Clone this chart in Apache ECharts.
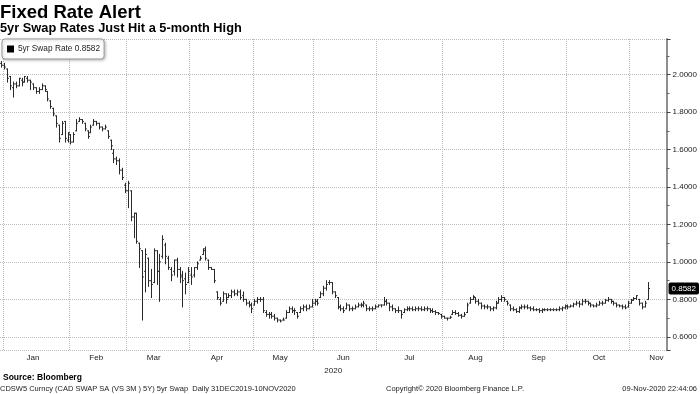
<!DOCTYPE html>
<html><head><meta charset="utf-8">
<script src="https://cdn.jsdelivr.net/npm/echarts@6/dist/echarts.min.js"></script>
<style>html,body{margin:0;padding:0;background:#fff}#c{width:700px;height:394px}</style>
</head><body><div id="c"></div>
<script>
const titleText = 'Fixed Rate Alert';
const subtitleText = '5yr Swap Rates Just Hit a 5-month High';
const sourceText = 'Source: Bloomberg';
const footLeft = 'CDSW5 Curncy (CAD SWAP SA (VS 3M ) 5Y) 5yr Swap  Daily 31DEC2019-10NOV2020';
const footMid = 'Copyright\u00a9 2020 Bloomberg Finance L.P.';
const footRight = '09-Nov-2020 22:44:06';
const seriesName = '5yr Swap Rate';
const yearLabel = '2020';
const firstDate = '2019-12-31';
const extraFutureDays = 6;
const monthNames = ['Jan','Feb','Mar','Apr','May','Jun','Jul','Aug','Sep','Oct','Nov','Dec'];
const monthLabelDates = ['2020-01-15','2020-02-14','2020-03-13','2020-04-14','2020-05-14','2020-06-15','2020-07-16','2020-08-18','2020-09-17','2020-10-16','2020-11-13'];

const openV = [2.06,2.05,2.03,1.99,1.93,1.95,1.94,1.97,1.96,1.98,
1.97,1.95,1.93,1.91,1.92,1.94,1.91,1.86,1.82,1.78,
1.73,1.68,1.75,1.65,1.68,1.64,1.70,1.75,1.76,1.74,
1.70,1.69,1.73,1.75,1.74,1.72,1.71,1.70,1.65,1.58,
1.55,1.54,1.49,1.41,1.38,1.38,1.24,1.26,1.10,1.06,
0.95,1.02,0.90,0.89,1.06,0.95,1.03,1.09,1.02,0.96,
0.95,1.01,0.96,0.93,0.91,0.89,0.93,0.93,0.97,1.01,
1.04,1.07,1.01,0.97,0.96,0.84,0.80,0.79,0.83,0.81,
0.82,0.84,0.83,0.84,0.82,0.80,0.78,0.77,0.77,0.79,
0.80,0.80,0.73,0.72,0.72,0.71,0.70,0.69,0.69,0.70,
0.73,0.75,0.74,0.73,0.73,0.75,0.76,0.75,0.76,0.78,
0.79,0.81,0.83,0.86,0.89,0.89,0.84,0.81,0.76,0.75,
0.75,0.77,0.75,0.75,0.76,0.77,0.77,0.77,0.75,0.75,
0.75,0.76,0.77,0.77,0.79,0.78,0.76,0.75,0.74,0.74,
0.73,0.745,0.75,0.75,0.745,0.75,0.75,0.745,0.75,0.75,
0.74,0.735,0.73,0.72,0.71,0.70,0.70,0.72,0.73,0.725,
0.715,0.71,0.73,0.78,0.80,0.81,0.79,0.78,0.765,0.76,
0.76,0.75,0.755,0.78,0.80,0.81,0.79,0.77,0.75,0.745,
0.735,0.755,0.76,0.76,0.755,0.75,0.745,0.745,0.74,0.745,
0.745,0.745,0.745,0.745,0.745,0.75,0.755,0.765,0.76,0.765,
0.775,0.78,0.775,0.79,0.79,0.78,0.77,0.765,0.77,0.78,
0.78,0.795,0.80,0.79,0.78,0.77,0.765,0.76,0.76,0.78,
0.795,0.805,0.80,0.78,0.76,0.80];

const highV = [2.07,2.06,2.03,1.99,1.96,1.96,1.98,1.98,1.99,1.99,
1.97,1.95,1.93,1.93,1.95,1.94,1.91,1.86,1.82,1.78,
1.73,1.75,1.75,1.69,1.68,1.69,1.76,1.77,1.76,1.74,
1.70,1.73,1.76,1.75,1.74,1.72,1.73,1.70,1.65,1.60,
1.56,1.55,1.50,1.42,1.43,1.38,1.26,1.26,1.10,1.06,
1.07,1.02,0.96,1.07,1.06,1.04,1.14,1.10,1.03,0.97,
1.01,1.02,0.97,0.95,0.94,0.97,0.97,0.97,1.00,1.03,
1.07,1.08,1.01,0.97,0.96,0.84,0.81,0.84,0.83,0.83,
0.85,0.85,0.85,0.85,0.84,0.80,0.79,0.78,0.80,0.81,
0.81,0.81,0.74,0.73,0.73,0.72,0.70,0.69,0.70,0.74,
0.76,0.76,0.75,0.73,0.76,0.77,0.77,0.77,0.80,0.80,
0.80,0.84,0.87,0.90,0.90,0.89,0.84,0.81,0.77,0.76,
0.78,0.77,0.76,0.77,0.78,0.78,0.79,0.77,0.76,0.76,
0.77,0.77,0.77,0.81,0.80,0.78,0.77,0.75,0.76,0.74,
0.75,0.76,0.76,0.76,0.76,0.76,0.76,0.76,0.76,0.75,
0.75,0.74,0.73,0.72,0.71,0.70,0.71,0.74,0.74,0.73,
0.72,0.73,0.78,0.81,0.82,0.81,0.80,0.78,0.77,0.77,
0.76,0.76,0.79,0.81,0.82,0.81,0.79,0.77,0.76,0.75,
0.76,0.77,0.77,0.77,0.76,0.76,0.75,0.75,0.75,0.75,
0.75,0.75,0.75,0.75,0.76,0.76,0.77,0.77,0.77,0.78,
0.79,0.79,0.80,0.80,0.79,0.78,0.77,0.78,0.79,0.79,
0.80,0.81,0.80,0.79,0.78,0.77,0.77,0.77,0.79,0.80,
0.81,0.82,0.80,0.78,0.79,0.89];

const lowV = [2.04,2.03,1.96,1.92,1.88,1.93,1.94,1.94,1.96,1.96,
1.92,1.92,1.90,1.90,1.92,1.91,1.86,1.82,1.78,1.72,
1.64,1.68,1.64,1.64,1.63,1.64,1.70,1.75,1.74,1.70,
1.66,1.69,1.73,1.73,1.71,1.70,1.71,1.66,1.60,1.53,
1.52,1.47,1.44,1.37,1.29,1.22,1.13,1.10,0.97,0.69,
0.84,0.87,0.81,0.89,0.88,0.79,1.02,0.99,0.96,0.90,
0.93,0.92,0.89,0.76,0.83,0.89,0.88,0.92,0.96,1.01,
1.04,1.01,0.96,0.96,0.89,0.80,0.77,0.79,0.78,0.81,
0.81,0.82,0.82,0.80,0.79,0.77,0.76,0.73,0.77,0.78,
0.79,0.73,0.71,0.70,0.70,0.69,0.68,0.68,0.69,0.70,
0.73,0.73,0.72,0.70,0.73,0.74,0.74,0.75,0.76,0.77,
0.77,0.81,0.82,0.85,0.88,0.83,0.81,0.75,0.74,0.73,
0.75,0.74,0.74,0.75,0.76,0.76,0.76,0.74,0.74,0.74,
0.75,0.76,0.76,0.77,0.77,0.74,0.74,0.73,0.73,0.70,
0.73,0.74,0.74,0.74,0.74,0.74,0.74,0.74,0.74,0.73,
0.73,0.72,0.72,0.70,0.70,0.69,0.70,0.72,0.72,0.71,
0.70,0.71,0.73,0.78,0.80,0.78,0.77,0.75,0.75,0.75,
0.74,0.74,0.75,0.78,0.79,0.79,0.77,0.74,0.74,0.73,
0.73,0.75,0.75,0.75,0.74,0.74,0.74,0.73,0.73,0.74,
0.74,0.74,0.74,0.74,0.74,0.74,0.75,0.75,0.76,0.76,
0.77,0.76,0.77,0.78,0.77,0.76,0.76,0.76,0.77,0.77,
0.78,0.79,0.78,0.77,0.76,0.76,0.75,0.75,0.76,0.78,
0.795,0.80,0.77,0.75,0.76,0.80];

const closeV = [2.05,2.04,1.98,1.94,1.95,1.94,1.98,1.96,1.99,1.97,
1.96,1.93,1.91,1.92,1.94,1.92,1.87,1.83,1.79,1.74,
1.66,1.74,1.66,1.69,1.64,1.68,1.74,1.76,1.75,1.71,
1.67,1.72,1.75,1.74,1.72,1.71,1.72,1.67,1.62,1.55,
1.54,1.49,1.45,1.38,1.42,1.24,1.26,1.11,1.07,0.92,
1.04,0.90,0.88,1.06,0.95,1.00,1.12,1.03,0.97,0.93,
1.01,0.96,0.92,0.90,0.88,0.95,0.92,0.97,0.99,1.02,
1.06,1.02,0.97,0.96,0.90,0.81,0.78,0.83,0.80,0.82,
0.84,0.83,0.84,0.81,0.80,0.78,0.77,0.75,0.79,0.80,
0.80,0.74,0.72,0.72,0.71,0.70,0.69,0.685,0.69,0.73,
0.75,0.74,0.74,0.71,0.75,0.76,0.75,0.76,0.78,0.79,
0.78,0.83,0.86,0.88,0.89,0.84,0.82,0.76,0.75,0.74,
0.77,0.75,0.75,0.76,0.77,0.77,0.78,0.75,0.75,0.75,
0.76,0.77,0.77,0.79,0.78,0.76,0.75,0.74,0.74,0.72,
0.745,0.75,0.75,0.745,0.75,0.75,0.745,0.75,0.75,0.74,
0.735,0.73,0.725,0.71,0.70,0.70,0.705,0.73,0.725,0.715,
0.71,0.72,0.77,0.80,0.815,0.79,0.78,0.765,0.76,0.76,
0.75,0.755,0.78,0.80,0.81,0.80,0.78,0.75,0.745,0.735,
0.755,0.76,0.76,0.755,0.75,0.745,0.745,0.74,0.745,0.745,
0.745,0.745,0.745,0.745,0.75,0.755,0.765,0.76,0.765,0.775,
0.78,0.775,0.79,0.79,0.78,0.77,0.765,0.77,0.78,0.78,
0.795,0.80,0.79,0.78,0.77,0.765,0.76,0.755,0.78,0.795,
0.805,0.82,0.78,0.76,0.78,0.8582];

// trading-day categories (weekdays), plus a few empty future days
function pad(n){return n<10?'0'+n:''+n;}
const dates = [];
(function(){
  const d = new Date(firstDate + 'T00:00:00Z');
  const total = closeV.length + extraFutureDays;
  while (dates.length < total) {
    const wd = d.getUTCDay();
    if (wd !== 0 && wd !== 6) dates.push(d.getUTCFullYear()+'-'+pad(d.getUTCMonth()+1)+'-'+pad(d.getUTCDate()));
    d.setUTCDate(d.getUTCDate()+1);
  }
})();
const monthStarts = new Set();
for (let i = 1; i < dates.length; i++) {
  if (dates[i].slice(0,7) !== dates[i-1].slice(0,7)) monthStarts.add(dates[i]);
}
const labelSet = new Set(monthLabelDates);
const lastClose = closeV[closeV.length-1];
const ohlc = closeV.map((c,i)=>[i, openV[i], highV[i], lowV[i], c]);

const FONT = 'Liberation Sans';
const chart = echarts.init(document.getElementById('c'), null, {renderer:'canvas'});
chart.setOption({
  animation: false,
  backgroundColor: '#fff',
  textStyle: {fontFamily: FONT},
  title: [
    {text: titleText, left: 0, top: 3, padding: 0, textStyle: {fontFamily: FONT, fontSize: 18.5, fontWeight: 'bold', color: '#000'}},
    {text: subtitleText, left: 0, top: 22, padding: 0, textStyle: {fontFamily: FONT, fontSize: 12.8, fontWeight: 'bold', color: '#000'}},
    {text: sourceText, left: 3, top: 373, padding: 0, textStyle: {fontFamily: FONT, fontSize: 8.5, fontWeight: 'bold', color: '#000'}},
    {text: footLeft, left: 0, top: 385, padding: 0, textStyle: {fontFamily: FONT, fontSize: 7.5, fontWeight: 'normal', color: '#222'}},
    {text: footMid, left: 386, top: 385, padding: 0, textStyle: {fontFamily: FONT, fontSize: 7.5, fontWeight: 'normal', color: '#222'}},
    {text: footRight, right: 3, top: 385, padding: 0, textStyle: {fontFamily: FONT, fontSize: 7.5, fontWeight: 'normal', color: '#222'}}
  ],
  legend: {
    left: 2, top: 39, orient: 'horizontal',
    padding: [6, 4, 6, 5],
    itemWidth: 7, itemHeight: 7, itemGap: 4,
    backgroundColor: '#fff', borderColor: '#9a9a9a', borderWidth: 1, borderRadius: 3,
    shadowBlur: 3, shadowColor: 'rgba(0,0,0,0.25)', shadowOffsetX: 1, shadowOffsetY: 1,
    data: [{name: seriesName, icon: 'rect', itemStyle: {color: '#000'}}],
    formatter: name => name + ' ' + lastClose.toFixed(4),
    textStyle: {fontFamily: FONT, fontSize: 8.3, color: '#222', padding: [0,0,0,-1]},
    selectedMode: false
  },
  grid: {left: 0, right: 32, top: 39, bottom: 44, containLabel: false},
  xAxis: {
    type: 'category', data: dates, boundaryGap: true,
    axisLine: {show: false}, axisTick: {show: false},
    axisLabel: {
      interval: (i, v) => labelSet.has(v),
      formatter: v => monthNames[parseInt(v.slice(5,7),10)-1],
      fontFamily: FONT, fontSize: 8, color: '#222', margin: 4
    },
    splitLine: {show: true, interval: (i, v) => monthStarts.has(v), lineStyle: {type: 'dotted', color: '#bdbdbd', width: 1}},
    name: yearLabel, nameLocation: 'middle', nameGap: 15,
    nameTextStyle: {fontFamily: FONT, fontSize: 8, color: '#222'}
  },
  yAxis: {
    type: 'value', position: 'right', min: 0.53, max: 2.19, splitNumber: 8, scale: true,
    axisLine: {show: true, lineStyle: {color: '#8f8f8f', width: 2}},
    axisTick: {show: true, length: 4, lineStyle: {color: '#444', width: 1}},
    minorTick: {show: true, splitNumber: 2, length: 3, lineStyle: {color: '#666', width: 1}},
    axisLabel: {formatter: v => v.toFixed(4), showMinLabel: false, showMaxLabel: false, fontFamily: FONT, fontSize: 8, color: '#222', margin: 6},
    splitLine: {show: true, lineStyle: {type: 'dotted', color: '#bdbdbd', width: 1}},
    axisPointer: {
      show: true, value: lastClose, status: 'show', triggerTooltip: false, snap: false,
      lineStyle: {opacity: 0, width: 0},
      label: {show: true, formatter: p => Number(p.value).toFixed(4), backgroundColor: '#000', color: '#fff',
        fontFamily: FONT, fontSize: 8, padding: [2, 3, 2, 3], borderRadius: 2, margin: 2}
    }
  },
  series: [{
    type: 'custom', name: seriesName, data: ohlc,
    encode: {x: 0, y: [1, 2, 3, 4]},
    itemStyle: {color: '#000'},
    clip: true,
    renderItem: function (params, api) {
      const idx = api.value(0);
      const o = api.coord([idx, api.value(1)]);
      const h = api.coord([idx, api.value(2)]);
      const l = api.coord([idx, api.value(3)]);
      const c = api.coord([idx, api.value(4)]);
      const w = api.size([1, 0])[0] * 0.5;
      const x = Math.round(h[0]) + 0.5;
      const st = {stroke: '#2a2a2a', lineWidth: 1};
      return {type: 'group', children: [
        {type: 'line', shape: {x1: x, y1: h[1] - 0.5, x2: x, y2: l[1] + 0.5}, style: st},
        {type: 'line', shape: {x1: x - w, y1: o[1], x2: x, y2: o[1]}, style: st},
        {type: 'line', shape: {x1: x, y1: c[1], x2: x + w, y2: c[1]}, style: st}
      ]};
    }
  }]
});
</script></body></html>
